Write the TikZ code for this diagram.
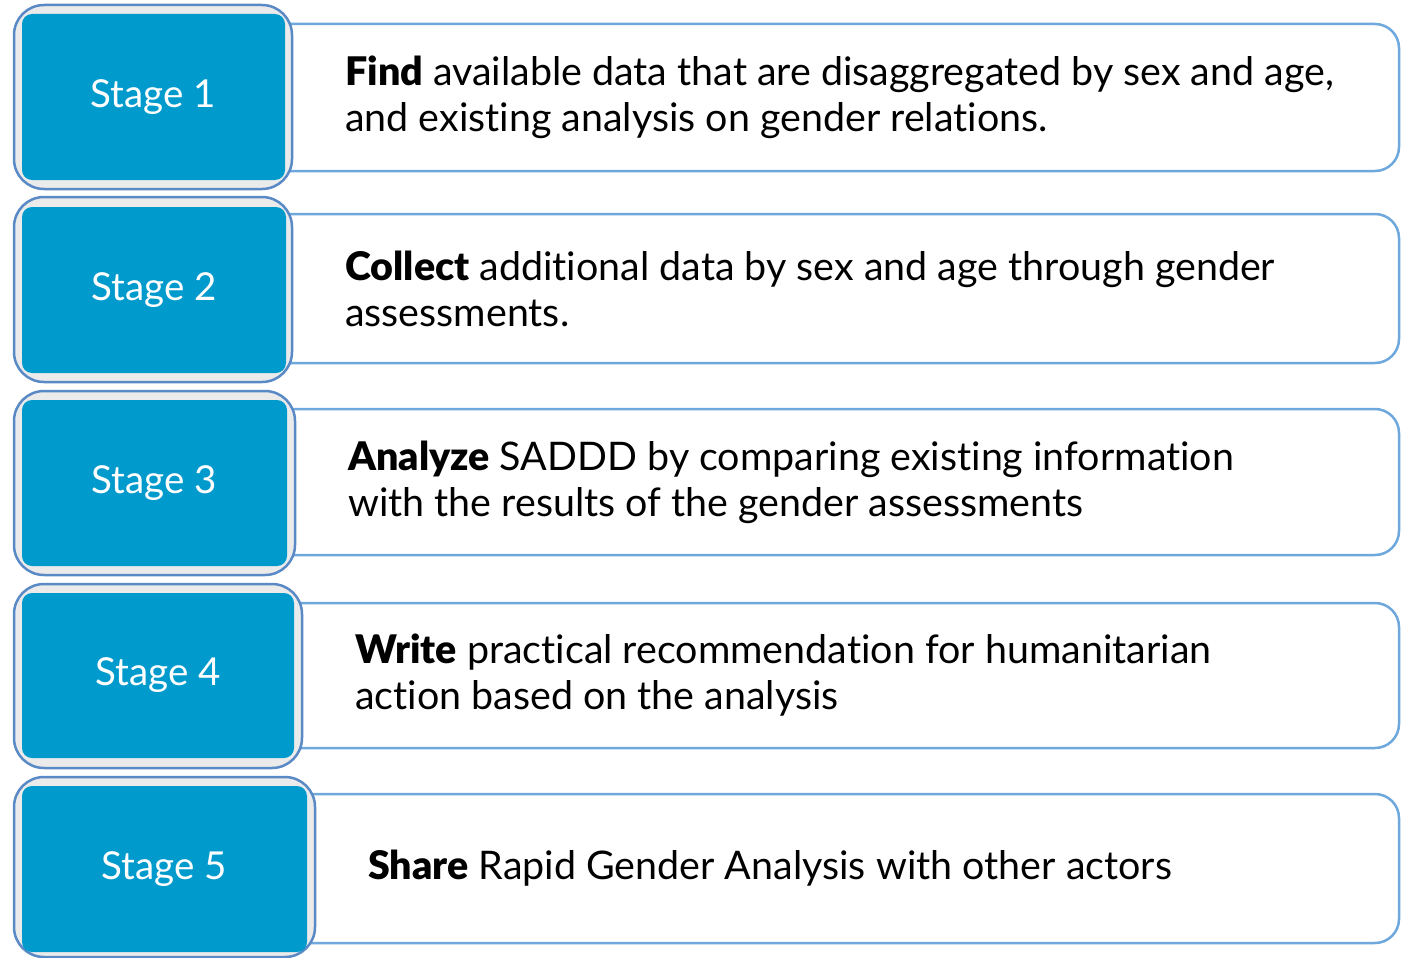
\documentclass[tikz,border=0pt]{standalone}
\usepackage{fontspec}
\setmainfont{Lato}[BoldFont={Lato Black}, RawFeature={-liga}]
\definecolor{stageblue}{RGB}{0,154,205}
\definecolor{outerline}{RGB}{90,138,198}
\definecolor{outerfill}{RGB}{235,235,235}
\definecolor{descline}{RGB}{111,168,220}
\tikzset{
  stageouter/.style={draw=outerline, fill=outerfill, line width=2.5pt,
    rounded corners=30pt, inner sep=0pt},
  stagefill/.style={fill=stageblue, draw=none, inner sep=0pt,
    rounded corners=10pt,
    text=white, font=\fontsize{38.5}{44}\selectfont},
  descbox/.style={draw=descline, fill=white, line width=2.5pt,
    rounded corners=24pt, inner sep=0pt, minimum width=1149pt},
  desctext/.style={anchor=west, align=left, inner sep=0pt,
    font=\fontsize{39.4}{46}\selectfont}
}
\begin{document}
\begin{tikzpicture}[x=1pt, y=-1pt]
\useasboundingbox (0,0) rectangle (1405,958);

% description panels (drawn first, the stage tabs cover their left ends)
\node[descbox, minimum height=147pt] (d1) at (824.5,97.5) {};
\node[descbox, minimum height=149pt] (d2) at (824.5,288.5) {};
\node[descbox, minimum height=146pt] (d3) at (824.5,482) {};
\node[descbox, minimum height=145pt] (d4) at (824.5,675.5) {};
\node[descbox, minimum height=149pt] (d5) at (824.5,868.5) {};

% stage tabs
\node[stageouter, minimum width=278pt, minimum height=184pt] (o1) at (153,97) {};
\node[stagefill, minimum width=263pt, minimum height=166pt] (s1) at (153.5,97) {Stage 1};

\node[stageouter, minimum width=278pt, minimum height=185pt] (o2) at (153,289.5) {};
\node[stagefill, minimum width=264pt, minimum height=166pt] (s2) at (154,290) {Stage 2};

\node[stageouter, minimum width=281pt, minimum height=184pt] (o3) at (154.5,483) {};
\node[stagefill, minimum width=265pt, minimum height=166pt] (s3) at (154.5,483) {Stage 3};

\node[stageouter, minimum width=288pt, minimum height=184pt] (o4) at (158,676) {};
\node[stagefill, minimum width=272pt, minimum height=165pt] (s4) at (158,675.5) {Stage 4};

\node[stageouter, minimum width=301pt, minimum height=180pt] (o5) at (164.5,867) {};
\node[stagefill, minimum width=285pt, minimum height=166pt] (s5) at (164.5,869) {Stage 5};

% texts
\node[desctext] (t1) at (345,97.5) {\textbf{Find} available data that are disaggregated by sex and age,\\and existing analysis on gender relations.};
\node[desctext] (t2) at (345,288.5) {\textbf{Collect} additional data by sex and age through gender\\assessments.};
\node[desctext] (t3) at (348,482) {\textbf{Analyze} SADDD by comparing existing information\\with the results of the gender assessments};
\node[desctext] (t4) at (355,675.5) {\textbf{Write} practical recommendation for humanitarian\\action based on the analysis};
\node[desctext] (t5) at (368,868.5) {\textbf{Share} Rapid Gender Analysis with other actors};
\end{tikzpicture}
\end{document}
